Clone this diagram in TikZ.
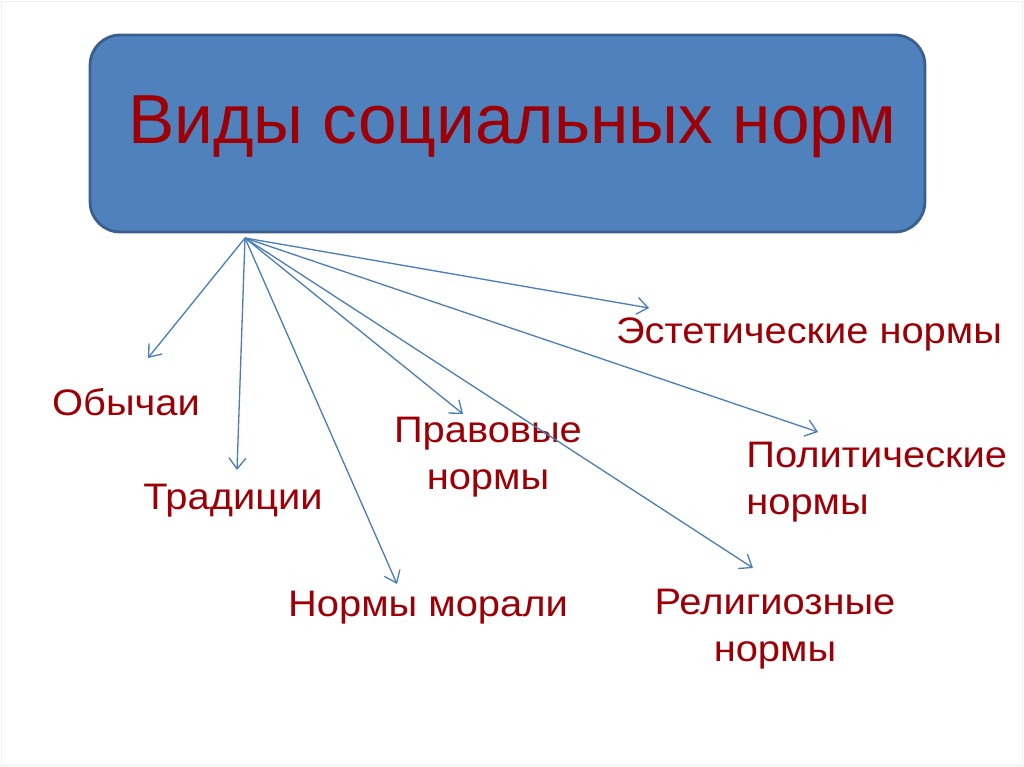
\documentclass[tikz,border=0pt]{standalone}
\usepackage{fontspec}
\setmainfont{Liberation Sans}
\newfontfamily\lblfont[FakeStretch=1.08]{Liberation Sans}
\usetikzlibrary{arrows.meta,positioning}
\definecolor{boxblue}{HTML}{4F81BD}
\definecolor{boxedge}{HTML}{3A5F8E}
\definecolor{arrblue}{HTML}{4A7EBB}
\definecolor{normred}{HTML}{9C0006}

\begin{document}
\begin{tikzpicture}[x=0.02cm, y=-0.02cm,
  normbox/.style={rectangle, draw=boxedge, line width=1.6pt, fill=boxblue,
                  rounded corners=0.6cm, minimum width=16.7cm, minimum height=3.94cm},
  title/.style={text=normred, font=\fontsize{39.5}{44}\selectfont},
  lbl/.style={text=normred, font=\lblfont\fontsize{21}{26.5}\selectfont, inner sep=0pt},
  arr/.style={-{Straight Barb[length=2.2mm, width=3.4mm]}, arrblue, line width=0.75pt},
]
  \useasboundingbox (0,0) rectangle (1024,767);
  \draw[black!6] (1,1) rectangle (1022,765);

  % the heading box
  \node[normbox] (box) at (507.5,133.5) {};
  \node[title] (head) at (512,127) {Виды социальных норм};

  % the kinds of norms
  \node[lbl] (obych) at (126,402) {Обычаи};
  \node[lbl] (trad)  at (233,501) {Традиции};
  \node[lbl] (moral) at (428,608) {Нормы морали};
  \node[lbl, align=center] (prav) at (488,457) {Правовые\\нормы};
  \node[lbl] (estet) at (809,334) {Эстетические нормы};
  \node[lbl, align=left, anchor=west] (polit) at (746,482) {Политические\\нормы};
  \node[lbl, align=center] (relig) at (775,629) {Религиозные\\нормы};

  % where the arrows start and end
  \coordinate (hub) at (245,238);
  \coordinate (toObych) at (148,358);
  \coordinate (toTrad)  at (237,470);
  \coordinate (toMoral) at (397,584);
  \coordinate (toPrav)  at (463,414);
  \coordinate (toRelig) at (753,568);
  \coordinate (toPolit) at (818,432);
  \coordinate (toEstet) at (649,308);

  \foreach \t in {toObych,toTrad,toMoral,toPrav,toRelig,toPolit,toEstet}
    \draw[arr] (hub) -- (\t);
\end{tikzpicture}
\end{document}
